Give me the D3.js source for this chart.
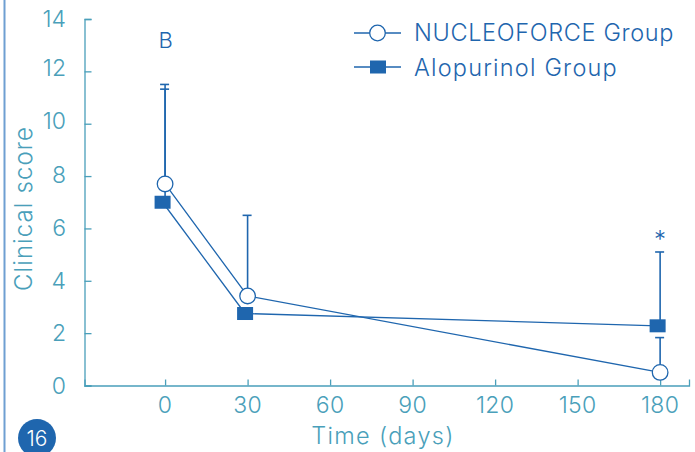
<!DOCTYPE html>
<html>
<head>
<meta charset="utf-8">
<script src="https://cdn.jsdelivr.net/npm/d3@7"></script>
<style>
html, body { margin: 0; padding: 0; background: #fff; }
svg { display: block; }
text { font-family: Inter, "Noto Sans", sans-serif; font-weight: 300; }
</style>
</head>
<body>
<svg></svg>
<script>
// values
var days = [0, 30, 180];
var nucleoforce = [7.7, 3.42, 0.5];
var alopurinol = [7.0, 2.75, 2.28];
var nucleoforceTop = [11.32, 6.5, 1.83];
var alopurinolTop = [11.5, null, 5.1];
var xTicks = [0, 30, 60, 90, 120, 150, 180];
var yTicks = [0, 2, 4, 6, 8, 10, 12, 14];
var names = ["NUCLEOFORCE Group", "Alopurinol Group"];

var width = 695, height = 452;
var axisColor = "#4a9fba", markColor = "#1f66ae";

var svg = d3.select("svg").attr("width", width).attr("height", height);

var x = d3.scaleLinear().domain([-29.3, 190.5]).range([84.5, 689]);
var y = d3.scaleLinear().domain([0, 14]).range([385.5, 19]);

// page rule on the left and page number
svg.append("line").attr("x1", 4.5).attr("x2", 4.5).attr("y1", 0).attr("y2", height)
    .attr("stroke", "#6f9fd2").attr("stroke-width", 2);
svg.append("circle").attr("cx", 37).attr("cy", 438).attr("r", 19).attr("fill", markColor);
svg.append("text").attr("x", 37).attr("y", 446).attr("text-anchor", "middle")
    .attr("font-size", 21).attr("fill", "#fff").text("16");

// axes
var gx = svg.append("g").attr("transform", "translate(0,385.5)")
    .call(d3.axisTop(x).tickValues(xTicks).tickSize(6).tickFormat(""));
var gy = svg.append("g").attr("transform", "translate(84.5,0)")
    .call(d3.axisRight(y).tickValues(yTicks).tickSize(7).tickFormat(""));
svg.selectAll(".domain, .tick line").attr("stroke", axisColor).attr("stroke-width", 1.3);

svg.append("g").selectAll("text").data(xTicks).join("text")
    .attr("x", function(d) { return x(d); })
    .attr("y", 413)
    .attr("text-anchor", "middle")
    .attr("font-size", 23)
    .attr("letter-spacing", 0.3)
    .attr("fill", axisColor)
    .text(function(d) { return d; });

// the printed labels sit a little off their ticks in the middle of the axis
var labelNudge = {12: -3, 10: -3, 8: -1};
svg.append("g").selectAll("text").data(yTicks).join("text")
    .attr("x", 66)
    .attr("y", function(d) { return y(d) + 8 + (labelNudge[d] || 0); })
    .attr("text-anchor", "end")
    .attr("font-size", 23)
    .attr("fill", axisColor)
    .text(function(d) { return d; });

svg.append("text").attr("x", 383).attr("y", 444).attr("text-anchor", "middle")
    .attr("font-size", 23.5).attr("letter-spacing", 1.3).attr("fill", axisColor).text("Time (days)");
svg.append("text").attr("transform", "translate(32,208.5) rotate(-90)").attr("text-anchor", "middle")
    .attr("font-size", 24).attr("letter-spacing", 1.1).attr("fill", axisColor).text("Clinical score");

// error bars
function errorBars(tops, base) {
    days.forEach(function(d, i) {
        if (tops[i] == null) return;
        svg.append("line").attr("x1", x(d)).attr("x2", x(d))
            .attr("y1", y(tops[i])).attr("y2", y(base[i]))
            .attr("stroke", markColor).attr("stroke-width", 1.6);
        svg.append("line").attr("x1", x(d) - 5).attr("x2", x(d) + 4)
            .attr("y1", y(tops[i])).attr("y2", y(tops[i]))
            .attr("stroke", markColor).attr("stroke-width", 1.6);
    });
}
errorBars(nucleoforceTop, nucleoforce);
errorBars(alopurinolTop, alopurinol);

// lines
var sqOffset = -2.5;
var line = d3.line()
    .x(function(d, i) { return x(days[i]); })
    .y(function(d) { return y(d); });
var lineAlo = d3.line()
    .x(function(d, i) { return x(days[i]) + sqOffset; })
    .y(function(d) { return y(d); });

svg.append("path").attr("d", line(nucleoforce)).attr("fill", "none")
    .attr("stroke", markColor).attr("stroke-width", 1.3);
svg.append("path").attr("d", lineAlo(alopurinol)).attr("fill", "none")
    .attr("stroke", markColor).attr("stroke-width", 1.3);

// markers
svg.append("g").selectAll("rect").data(alopurinol).join("rect")
    .attr("x", function(d, i) { return x(days[i]) + sqOffset - 8; })
    .attr("y", function(d) { return y(d) - 6.5; })
    .attr("width", 16).attr("height", 13)
    .attr("fill", markColor);
svg.append("g").selectAll("circle").data(nucleoforce).join("circle")
    .attr("cx", function(d, i) { return x(days[i]); })
    .attr("cy", function(d) { return y(d); })
    .attr("r", 7.8)
    .attr("fill", "#fff").attr("stroke", markColor).attr("stroke-width", 1.3);

// annotations
svg.append("text").attr("x", x(0) + 0.5).attr("y", 48).attr("text-anchor", "middle")
    .attr("font-size", 22).attr("fill", markColor).text("B");
svg.append("text").attr("x", x(180)).attr("y", 248).attr("text-anchor", "middle")
    .attr("font-size", 24).attr("fill", markColor).text("*");

// legend
[33, 67].forEach(function(ly, i) {
    svg.append("line").attr("x1", 354).attr("x2", 401).attr("y1", ly).attr("y2", ly)
        .attr("stroke", markColor).attr("stroke-width", 1.3);
    if (i == 0) {
        svg.append("circle").attr("cx", 377.5).attr("cy", ly).attr("r", 7.8)
            .attr("fill", "#fff").attr("stroke", markColor).attr("stroke-width", 1.3);
    } else {
        svg.append("rect").attr("x", 370).attr("y", ly - 6.5).attr("width", 16).attr("height", 13)
            .attr("fill", markColor);
    }
    svg.append("text").attr("x", 414).attr("y", ly + 8 + i).attr("font-size", 23.5)
        .attr("letter-spacing", i == 0 ? 0.65 : 1.2).attr("fill", markColor).text(names[i]);
});
</script>
</body>
</html>
